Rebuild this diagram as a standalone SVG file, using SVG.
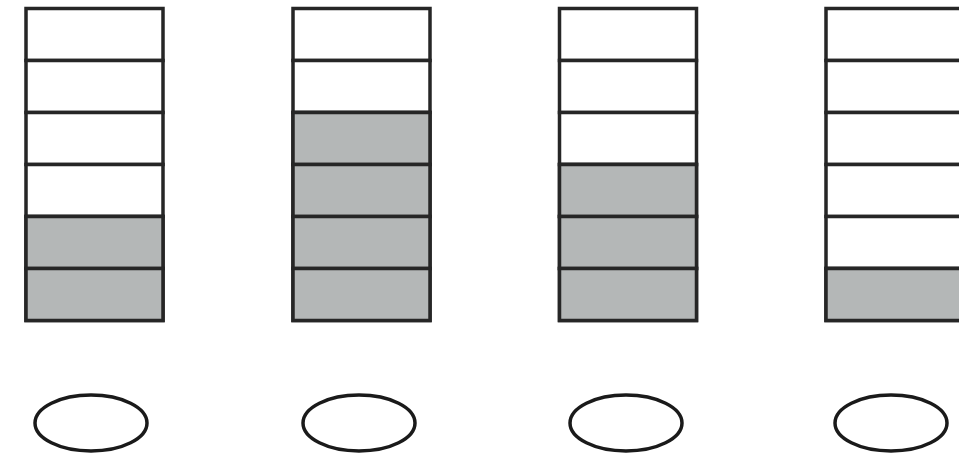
<svg xmlns="http://www.w3.org/2000/svg" width="959" height="465" viewBox="0 0 959 465">
<style>
.c{fill:#ffffff;stroke:#262626;stroke-width:3.5}
.g{fill:#b4b7b7;stroke:#262626;stroke-width:3.5}
.e{fill:#ffffff;stroke:#1a1a1a;stroke-width:3.5}
</style>
<defs>
<g id="col">
<rect class="c" x="0" y="0" width="137" height="52"/>
<rect class="c" x="0" y="52" width="137" height="52"/>
<rect class="c" x="0" y="104" width="137" height="52"/>
<rect class="c" x="0" y="156" width="137" height="52"/>
<rect class="c" x="0" y="208" width="137" height="52"/>
<rect class="c" x="0" y="260" width="137" height="52"/>
</g>
</defs>
<rect width="959" height="465" fill="#ffffff"/>
<g id="column1" transform="translate(26,8.5)">
<use href="#col"/>
<rect class="g" x="0" y="208" width="137" height="52"/>
<rect class="g" x="0" y="260" width="137" height="52"/>
</g>
<g id="column2" transform="translate(293,8.5)">
<use href="#col"/>
<rect class="g" x="0" y="104" width="137" height="52"/>
<rect class="g" x="0" y="156" width="137" height="52"/>
<rect class="g" x="0" y="208" width="137" height="52"/>
<rect class="g" x="0" y="260" width="137" height="52"/>
</g>
<g id="column3" transform="translate(559.5,8.5)">
<use href="#col"/>
<rect class="g" x="0" y="156" width="137" height="52"/>
<rect class="g" x="0" y="208" width="137" height="52"/>
<rect class="g" x="0" y="260" width="137" height="52"/>
</g>
<g id="column4" transform="translate(826,8.5)">
<use href="#col"/>
<rect class="g" x="0" y="260" width="137" height="52"/>
</g>
<g id="ellipse1"><ellipse class="e" cx="91" cy="423" rx="56" ry="28"/></g>
<g id="ellipse2"><ellipse class="e" cx="359" cy="423" rx="56" ry="28"/></g>
<g id="ellipse3"><ellipse class="e" cx="626" cy="423" rx="56" ry="28"/></g>
<g id="ellipse4"><ellipse class="e" cx="891" cy="423" rx="56" ry="28"/></g>
<g id="connectors"/>
</svg>
